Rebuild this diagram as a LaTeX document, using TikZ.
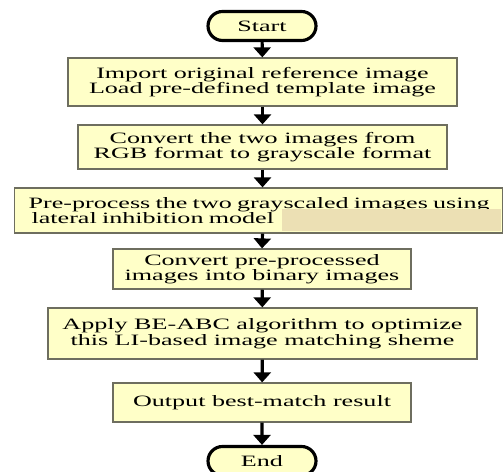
\documentclass[tikz,border=0pt]{standalone}
\usepackage{fontspec}
\newfontfamily\flowfont{Liberation Serif}[FakeStretch=1.65]
\usepackage{tikz}
\usetikzlibrary{shapes.misc, arrows.meta, positioning}
\definecolor{boxyellow}{RGB}{255,255,200}
\definecolor{boxedge}{RGB}{110,110,95}
\definecolor{tanpatch}{RGB}{236,224,180}

\begin{document}
\begin{tikzpicture}[
    x=0.02cm, y=-0.02cm,
    terminal/.style={rounded rectangle, draw=black, fill=boxyellow, line width=1.8pt,
        minimum width=2.16cm, minimum height=0.58cm, inner sep=0pt,
        font=\flowfont\fontsize{9}{8.8}\selectfont},
    procbox/.style={rectangle, draw=boxedge, fill=boxyellow, line width=0.7pt,
        inner sep=0pt, align=center, font=\flowfont\fontsize{9}{8.8}\selectfont},
    arr/.style={-{Triangle[width=0.34cm, length=0.2cm]}, line width=1.8pt},
]
\clip (0,0) rectangle (503,472);
\fill[white] (0,0) rectangle (503,472);
% terminals and process boxes, top to bottom
\node[terminal] (start) at (262,26) {Start};
\node[procbox, minimum width=7.78cm, minimum height=0.96cm] (import) at (262.5,82)
    {Import original reference image\\Load pre-defined template image};
\node[procbox, minimum width=7.38cm, minimum height=0.88cm] (convert) at (262.5,147)
    {Convert the two images from\\RGB format to grayscale format};
\node[procbox, anchor=west, minimum width=9.76cm, minimum height=0.9cm,
    text width=9.2cm, align=left, inner xsep=0.28cm] (preproc) at (14,210.5)
    {\mbox{Pre-process the two grayscaled images using}\\\hspace{0.06cm}lateral inhibition model};
\fill[tanpatch] (282,209) rectangle (501,231);
\node[procbox, minimum width=5.96cm, minimum height=0.8cm] (binary) at (262,269)
    {Convert pre-processed\\images into binary images};
\node[procbox, minimum width=8.58cm, minimum height=1.02cm] (optim) at (262.5,333.5)
    {Apply BE-ABC algorithm to optimize\\this LI-based image matching sheme};
\node[procbox, minimum width=5.96cm, minimum height=0.78cm] (output) at (262,402.5)
    {Output best-match result};
\node[terminal] (end) at (262,461) {End};
% arrows
\draw[arr] (start) -- (import);
\draw[arr] (import) -- (convert);
\draw[arr] (convert.south) -- (convert.south |- preproc.north);
\draw[arr] (convert.south |- preproc.south) -- (binary.north);
\draw[arr] (binary) -- (optim);
\draw[arr] (optim) -- (output);
\draw[arr] (output) -- (end);
\end{tikzpicture}
\end{document}
